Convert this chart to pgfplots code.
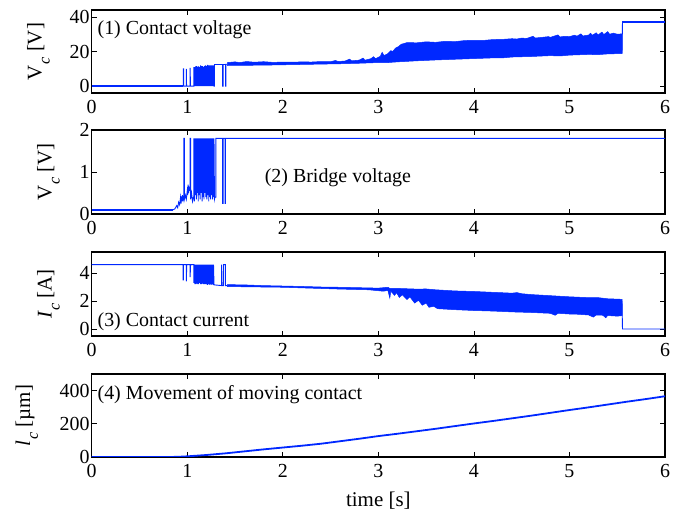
\documentclass[border=0pt]{standalone}
\usepackage{pgfplots}
\pgfplotsset{compat=1.18}
\usepackage{graphicx}
\usepackage{fontspec}
\setmainfont{Liberation Serif}
\definecolor{trace}{RGB}{0,40,255}
% lowered italic subscript for the quantity symbols
\newcommand\qsub[1]{\kern0.5pt\raisebox{-0.38em}{\scalebox{0.78}{\textit{#1}}}}

\tikzset{note/.style={font=\fontsize{20}{24}\selectfont, anchor=base west, inner sep=0pt}}
\pgfplotsset{
  panel/.style={
    scale only axis, width=573.3bp,
    xmin=0, xmax=6, xtick={0,1,2,3,4,5,6},
    tick align=inside, tick pos=both, major tick length=5bp,
    axis line style={line width=1.1bp},
    every tick/.style={line width=0.8bp, black},
    /pgf/number format/assume math mode=true,
    tick label style={font=\fontsize{20}{24}\selectfont},
    xticklabel style={inner sep=1bp, yshift=-6bp},
    yticklabel style={inner xsep=2bp, inner ysep=0pt},
    cycle list={{trace, line width=0.9bp, mark=none}},
    every axis plot/.append style={sharp plot, mark=none},
  },
  ylab/.style={every axis y label/.style={at={(axis description cs:#1,0.5)}, rotate=90, anchor=base, font=\fontsize{21}{24}\selectfont}},
}

\begin{document}
\begin{tikzpicture}
\path[use as bounding box] (0,0) rectangle (687bp,514bp);

% (1) contact voltage
\begin{axis}[panel, at={(91.7bp,421bp)}, anchor=south west, height=83bp,
  ymin=-4, ymax=44, ytick={0,20,40}, ylab=-0.0872,
  ylabel={V\qsub{c} [V]}]
\addplot[trace, line width=2.2bp] coordinates {(0,0) (0.955,0)};
\addplot[trace, line width=0.9bp] coordinates {
 (0.955,0) (0.96,0) (0.96,10) (0.963,10) (0.963,0) (0.99,0) (0.99,10) (0.993,0)
 (1.03,0) (1.03,10.5) (1.034,0) (1.07,0) (1.07,11) (1.075,0) (1.08,11) (1.085,0)
 (1.09,11.5) (1.095,0) (1.10,11.5) (1.105,0) (1.11,11) (1.115,0) (1.12,11.5) (1.125,0)
 (1.13,11) (1.135,0) (1.14,12) (1.145,0) (1.15,11.5) (1.155,0) (1.16,11.5) (1.165,0)
 (1.17,11) (1.175,0) (1.18,11.5) (1.185,0) (1.19,12) (1.195,0) (1.20,11.5) (1.205,0)
 (1.21,12) (1.215,12) (1.215,0) (1.22,12) (1.225,0) (1.23,12) (1.235,0) (1.24,12)
 (1.245,0) (1.25,12) (1.255,0) (1.26,12) (1.265,0) (1.27,12) (1.275,0) (1.28,12) (1.28,0)
 (1.285,0) (1.285,12.5) (1.37,12.5) (1.37,0) (1.375,0) (1.375,12.5) (1.40,12.5) (1.40,0)
 (1.405,0) (1.405,12.6) (1.42,12.6)};
\addplot[trace, fill=trace, line width=0.5bp] coordinates {
 (1.42,13.6) (1.50,14.0) (1.55,13.6) (1.62,14.2) (1.70,13.8) (1.80,14.1) (1.90,13.7)
 (2.00,13.9) (2.10,13.8) (2.20,14.0) (2.30,13.9) (2.40,14.2) (2.50,14.1) (2.55,14.8)
 (2.58,14.2) (2.65,14.5) (2.70,15.6) (2.72,14.6) (2.80,15.0) (2.84,16.2) (2.86,15.0)
 (2.92,15.8) (2.95,17.0) (2.97,15.8) (3.02,17.2) (3.04,19.5) (3.06,17.6) (3.10,18.8)
 (3.13,20.5) (3.15,20.0) (3.18,22.0) (3.21,22.8) (3.24,24.2) (3.27,24.6) (3.30,25.2)
 (3.40,25.0) (3.50,25.6) (3.60,25.3) (3.70,25.9) (3.80,25.7) (3.90,26.3) (4.00,26.5)
 (4.10,26.4) (4.20,26.9) (4.30,27.0) (4.40,27.4) (4.45,27.2) (4.50,27.8) (4.55,27.5)
 (4.62,28.8) (4.64,27.8) (4.70,28.1) (4.78,28.6) (4.80,28.2) (4.88,29.6) (4.90,28.4)
 (4.95,28.8) (5.00,28.6) (5.05,29.4) (5.08,28.9) (5.12,30.2) (5.14,29.0) (5.20,29.5)
 (5.22,30.6) (5.24,29.4) (5.28,30.8) (5.30,29.6) (5.34,31.2) (5.36,29.8) (5.40,31.5)
 (5.42,30.0) (5.46,30.6) (5.50,30.0) (5.55,30.2)
 (5.55,18.8) (5.40,18.6) (5.30,18.2) (5.20,18.3) (5.00,17.9) (4.90,17.4) (4.80,17.6)
 (4.60,17.1) (4.40,16.8) (4.30,16.3) (4.20,16.3) (4.00,15.9) (3.80,15.5) (3.60,15.1)
 (3.40,14.6) (3.20,14.0) (3.10,13.6) (3.00,13.6) (2.80,13.2) (2.60,12.9) (2.40,12.7)
 (2.20,12.5) (2.00,12.3) (1.80,12.1) (1.60,12.0) (1.42,11.9)} -- cycle;
\addplot[trace, line width=0.9bp] coordinates {(5.55,19) (5.555,37)};
\addplot[trace, line width=2bp] coordinates {(5.555,37) (6,37)};
\node[note] at (axis cs:0.06,29.7) {(1) Contact voltage};
\end{axis}

% (2) bridge voltage
\begin{axis}[panel, at={(91.7bp,300bp)}, anchor=south west, height=84bp,
  ymin=0, ymax=2, ytick={0,1,2}, ylab=-0.0698,
  ylabel={V\qsub{c} [V]}]
\addplot[trace, line width=2bp] coordinates {(0,0.1) (0.85,0.1)};
\addplot[trace, line width=0.9bp] coordinates {
 (0.85,0.1) (0.87,0.12) (0.89,0.2) (0.90,0.15) (0.91,0.28) (0.92,0.22) (0.93,0.4)
 (0.935,0.25) (0.94,0.42) (0.945,0.3) (0.95,0.45) (0.955,0.3) (0.96,0.42)
 (0.965,0.42) (0.965,1.8) (0.97,1.8) (0.97,0.35) (0.98,0.45) (0.99,0.35) (1.0,0.55)
 (1.005,0.45) (1.01,0.7) (1.015,0.5) (1.02,0.65) (1.025,0.55) (1.03,0.7)
 (1.03,1.8) (1.035,1.8) (1.035,0.35) (1.045,0.5) (1.055,0.3) (1.065,0.4)
 (1.07,0.4) (1.07,1.8) (1.075,0.3) (1.08,1.8) (1.085,0.45) (1.09,1.8) (1.095,0.35)
 (1.10,1.8) (1.105,0.5) (1.11,1.8) (1.115,0.3) (1.12,1.8) (1.125,0.45) (1.13,1.8)
 (1.135,0.35) (1.14,1.8) (1.145,0.5) (1.15,1.8) (1.155,0.3) (1.16,1.8) (1.165,0.4)
 (1.17,1.8) (1.175,0.35) (1.18,1.8) (1.185,0.5) (1.19,1.8) (1.195,0.4) (1.20,1.8)
 (1.205,0.35) (1.21,1.8) (1.215,0.45) (1.22,1.8) (1.225,0.3) (1.23,1.8) (1.235,0.4)
 (1.24,1.8) (1.245,0.35) (1.25,1.8) (1.255,0.45) (1.26,1.8) (1.265,0.35) (1.27,1.8)
 (1.275,0.4) (1.28,1.8) (1.285,0.35) (1.29,0.4)
 (1.30,0.4) (1.30,1.8) (1.37,1.8) (1.37,0.25) (1.375,0.25) (1.375,1.8) (1.395,1.8)
 (1.395,0.25) (1.40,0.25) (1.40,1.8) (6,1.8)};
\node[note] at (axis cs:1.81,0.74) {(2) Bridge voltage};
\end{axis}

% (3) contact current
\begin{axis}[panel, at={(91.7bp,178bp)}, anchor=south west, height=84bp,
  ymin=-0.5, ymax=5.5, ytick={0,2,4}, ylab=-0.0698,
  ylabel={\textit{I}\qsub{c} [A]}]
\addplot[trace, line width=0.9bp] coordinates {
 (0,4.6) (0.955,4.6) (0.955,3.5) (0.96,3.5) (0.96,4.6) (0.99,4.6) (0.99,3.4) (0.995,4.6)
 (1.03,4.6) (1.03,3.7) (1.035,4.6) (1.07,4.6) (1.07,3.3) (1.075,4.6) (1.08,3.2)
 (1.085,4.6) (1.09,3.2) (1.095,4.6) (1.10,3.25) (1.105,4.6) (1.11,3.2) (1.115,4.6)
 (1.12,3.2) (1.125,4.6) (1.13,3.3) (1.135,4.6) (1.14,3.2) (1.145,4.6) (1.15,3.2)
 (1.155,4.6) (1.16,3.25) (1.165,4.6) (1.17,3.2) (1.175,4.6) (1.18,3.2) (1.185,4.6)
 (1.19,3.2) (1.195,4.6) (1.20,3.2) (1.205,4.6) (1.21,3.15) (1.215,4.6) (1.22,3.2)
 (1.225,4.6) (1.23,3.15) (1.235,4.6) (1.24,3.2) (1.245,4.6) (1.25,3.15) (1.255,4.6)
 (1.26,3.2) (1.265,4.6) (1.27,3.15) (1.275,4.6) (1.28,3.15) (1.285,3.15)
 (1.36,3.1) (1.36,4.6) (1.365,3.1) (1.38,3.1) (1.38,4.6) (1.40,4.6) (1.40,3.1) (1.42,3.1)};
\addplot[trace, fill=trace, line width=0.5bp] coordinates {
 (1.42,3.17) (1.60,3.15) (1.80,3.10) (2.00,3.07) (2.20,3.04) (2.40,3.00) (2.60,2.98)
 (2.80,2.95) (3.00,2.92) (3.10,2.98) (3.12,2.90) (3.20,2.90) (3.40,2.85) (3.50,2.86)
 (3.60,2.80) (3.80,2.72) (4.00,2.68) (4.20,2.62) (4.40,2.56) (4.45,2.60) (4.50,2.52)
 (4.60,2.46) (4.80,2.38) (5.00,2.30) (5.20,2.24) (5.30,2.24) (5.40,2.16) (5.55,2.12)
 (5.55,0.95) (5.50,0.92) (5.40,0.96) (5.38,0.80) (5.35,0.98) (5.28,1.00) (5.25,0.85)
 (5.20,1.00) (5.10,1.05) (5.00,1.07) (4.88,1.12) (4.85,0.98) (4.80,1.12) (4.60,1.18)
 (4.40,1.22) (4.20,1.28) (4.00,1.32) (3.90,1.35) (3.80,1.38) (3.70,1.42) (3.62,1.45)
 (3.58,1.62) (3.53,1.55) (3.50,1.85) (3.46,1.70) (3.42,2.05) (3.38,1.85) (3.33,2.30)
 (3.30,2.10) (3.25,2.45) (3.22,2.25) (3.19,2.60) (3.17,2.40) (3.13,2.70) (3.12,2.20)
 (3.10,2.75) (3.05,2.70) (2.90,2.80) (2.60,2.85) (2.00,2.98) (1.42,3.03)} -- cycle;
\addplot[trace, line width=0.9bp] coordinates {(5.55,2.0) (5.555,0) (6,0)};
\node[note] at (axis cs:0.06,0.18) {(3) Contact current};
\end{axis}

% (4) movement of moving contact
\begin{axis}[panel, at={(91.7bp,57bp)}, anchor=south west, height=83bp,
  ymin=0, ymax=500, ytick={0,200,400}, ylab=-0.1076,
  ylabel={\textit{l}\qsub{c} [µm]},
  xlabel={time [s]},
  every axis x label/.style={at={(axis description cs:0.5,-0.602)}, anchor=base, font=\fontsize{21}{24}\selectfont}]
\addplot[trace, line width=1.8bp] coordinates {
 (0,0) (0.8,0) (0.9,1) (1.0,4) (1.2,12) (1.4,22) (1.6,34) (1.8,46) (2.0,57) (2.2,68)
 (2.4,80) (2.6,95) (2.8,110) (3.0,126) (3.2,140) (3.4,155) (3.6,170) (3.8,186)
 (4.0,202) (4.2,217) (4.4,233) (4.6,249) (4.8,266) (5.0,283) (5.2,299) (5.4,316)
 (5.6,333) (5.8,349) (6.0,366)};
\node[note] at (axis cs:0.06,346) {(4) Movement of moving contact};
\end{axis}
\end{tikzpicture}
\end{document}
